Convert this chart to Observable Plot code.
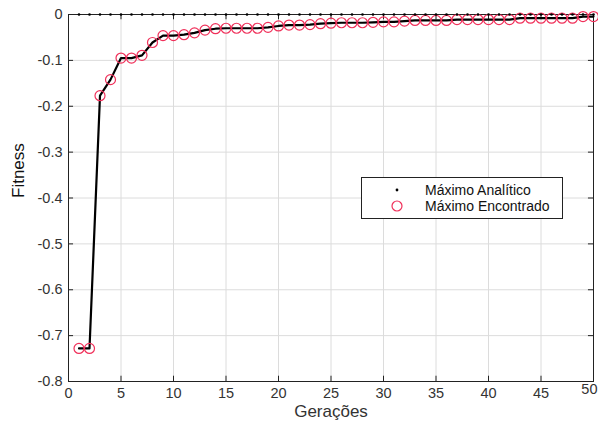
<!DOCTYPE html>
<html><head><meta charset="utf-8">
<script src="https://cdn.jsdelivr.net/npm/d3@7"></script>
<script src="https://cdn.jsdelivr.net/npm/@observablehq/plot@0.6"></script>
<style>
body{margin:0;background:#fff;font-family:"Liberation Sans",Arial,sans-serif;}
#wrap{position:relative;width:598px;height:426px;}
#legend{position:absolute;left:361px;top:177px;width:200px;height:40px;border:1px solid #222;background:#fff;font-size:14px;color:#111;}
#legend .row{position:absolute;left:0;height:16px;line-height:16px;}
#legend .sym{position:absolute;left:28px;width:16px;text-align:center;}
#legend .txt{position:absolute;left:63px;white-space:nowrap;}
</style></head>
<body><div id="wrap"><div id="legend">
<div class="row" style="top:4px"><svg class="sym" width="16" height="16" style="left:27px"><circle cx="8" cy="8" r="1.4" fill="#000"/></svg><span class="txt">Máximo Analítico</span></div>
<div class="row" style="top:20px"><svg class="sym" width="16" height="16" style="left:27px"><circle cx="8" cy="8" r="5" fill="none" stroke="#f0305a" stroke-width="1.2"/></svg><span class="txt">Máximo Encontrado</span></div>
</div></div>
<script>
const generations = d3.range(1, 51);
const encontrado = [-0.728,-0.728,-0.177,-0.142,-0.095,-0.095,-0.089,-0.061,-0.046,-0.046,
 -0.044,-0.040,-0.034,-0.031,-0.030,-0.030,-0.030,-0.030,-0.028,-0.025,
 -0.023,-0.023,-0.022,-0.020,-0.019,-0.018,-0.018,-0.018,-0.017,-0.016,
 -0.016,-0.0145,-0.013,-0.013,-0.013,-0.013,-0.011,-0.011,-0.011,-0.011,
 -0.011,-0.011,-0.008,-0.008,-0.008,-0.008,-0.008,-0.008,-0.0045,-0.0045];
const analitico = generations.map(() => 0);
const xTicks = [0,5,10,15,20,25,30,35,40,45,50];
const yTicks = [0,-0.1,-0.2,-0.3,-0.4,-0.5,-0.6,-0.7,-0.8];
const xLabel = "Gerações";
const yLabel = "Fitness";

const found = generations.map((g, i) => ({g, v: encontrado[i]}));
const anal = generations.map((g, i) => ({g, v: analitico[i]}));
const fmtY = d => d === 0 ? "0" : String(+d.toFixed(1));

const chart = Plot.plot({
  width: 598, height: 426,
  marginLeft: 68, marginRight: 5, marginTop: 14, marginBottom: 45,
  style: {fontFamily: '"Liberation Sans", Arial, sans-serif', fontSize: "14.5px", color: "#333", background: "#fff"},
  x: {domain: [0, 50], label: null},
  y: {domain: [-0.8, 0], label: null},
  marks: [
    Plot.gridX(xTicks, {stroke: "#dcdcdc", strokeOpacity: 1}),
    Plot.gridY(yTicks, {stroke: "#dcdcdc", strokeOpacity: 1}),
    Plot.axisX(xTicks.slice(0, -1), {tickSize: 0, tickPadding: 6, tickFormat: d => String(d), fontSize: 14.5, label: null}),
    Plot.text(xTicks.slice(-1), {x: d => d, frameAnchor: "bottom", dy: 12, textAnchor: "end", dx: 4, fontSize: 14.5, fill: "#333", text: d => String(d)}),
    Plot.axisY(yTicks, {tickSize: 0, tickPadding: 6, tickFormat: fmtY, fontSize: 14.5, label: null}),
    Plot.ruleX(xTicks, {y1: -0.8, y2: -0.7885, stroke: "#222"}),
    Plot.ruleX(xTicks, {y1: 0, y2: -0.0115, stroke: "#222"}),
    Plot.ruleY(yTicks, {x1: 0, x2: 0.48, stroke: "#222"}),
    Plot.ruleY(yTicks, {x1: 50, x2: 49.52, stroke: "#222"}),
    Plot.frame({stroke: "#222", strokeWidth: 1}),
    Plot.line(found, {x: "g", y: "v", stroke: "#000", strokeWidth: 2.2}),
    Plot.dot(found, {x: "g", y: "v", r: 5, stroke: "#f0305a", strokeWidth: 1.2, fill: "none"}),
    Plot.dot(anal, {x: "g", y: "v", r: 1.3, fill: "#000", stroke: "none"}),
    Plot.text([xLabel], {frameAnchor: "bottom", dy: 35, fontSize: 17, fill: "#333"}),
    Plot.text([yLabel], {frameAnchor: "left", dx: -50, rotate: -90, fontSize: 17, fill: "#111"})
  ]
});
document.getElementById("wrap").prepend(chart);
chart.style.position = "absolute"; chart.style.left = "0"; chart.style.top = "0";
</script></body></html>
